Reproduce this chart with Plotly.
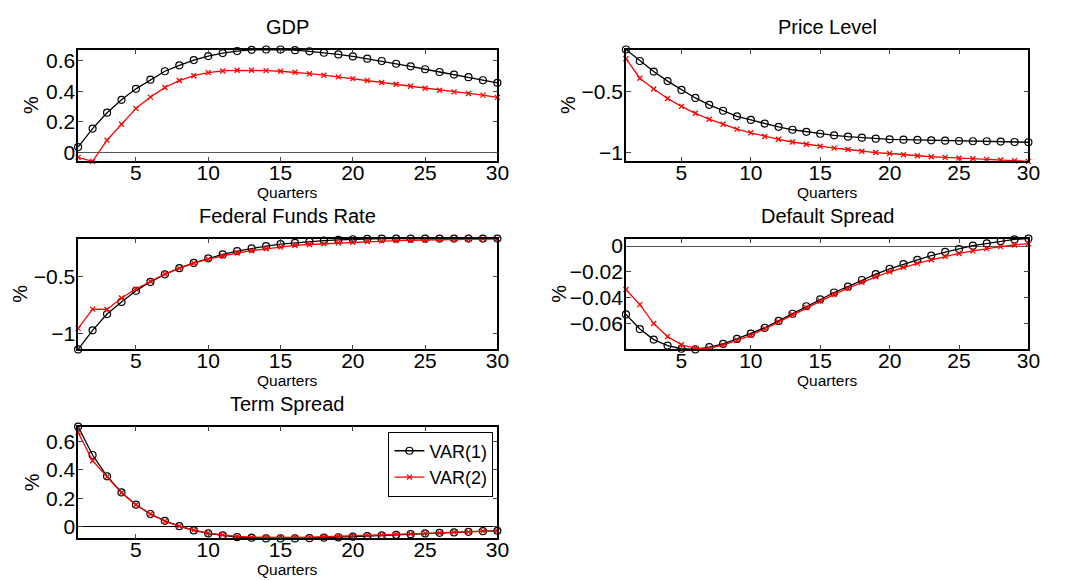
import plotly.graph_objects as go

quarters = list(range(1, 31))

gdp_var1 = [0.035, 0.156, 0.26, 0.344, 0.416, 0.476, 0.531, 0.570, 0.604, 0.630, 0.650, 0.663, 0.671, 0.673, 0.673,
            0.669, 0.661, 0.652, 0.641, 0.628, 0.613, 0.598, 0.580, 0.563, 0.544, 0.526, 0.509, 0.492, 0.472, 0.455]
gdp_var2 = [-0.032, -0.058, 0.08, 0.184, 0.288, 0.362, 0.425, 0.47, 0.502, 0.522, 0.533, 0.537, 0.537, 0.535, 0.531,
            0.524, 0.515, 0.505, 0.494, 0.483, 0.47, 0.457, 0.446, 0.433, 0.42, 0.407, 0.396, 0.386, 0.375, 0.36]

price_var1 = [-0.152, -0.247, -0.334, -0.413, -0.486, -0.552, -0.609, -0.658, -0.704, -0.734, -0.764, -0.791, -0.815,
              -0.832, -0.848, -0.861, -0.872, -0.880, -0.889, -0.894, -0.897, -0.899, -0.902, -0.905, -0.908, -0.910,
              -0.910, -0.913, -0.916, -0.918]
price_var2 = [-0.228, -0.389, -0.478, -0.557, -0.622, -0.679, -0.728, -0.769, -0.810, -0.840, -0.870, -0.894, -0.916,
              -0.935, -0.951, -0.967, -0.978, -0.992, -1.003, -1.011, -1.022, -1.030, -1.038, -1.043, -1.049, -1.054,
              -1.060, -1.065, -1.071, -1.076]

ffr_var1 = [-1.137, -0.971, -0.829, -0.723, -0.626, -0.549, -0.483, -0.429, -0.383, -0.343, -0.309, -0.280, -0.257,
            -0.237, -0.220, -0.209, -0.197, -0.189, -0.183, -0.177, -0.174, -0.171, -0.171, -0.171, -0.171, -0.171,
            -0.171, -0.171, -0.171, -0.171]
ffr_var2 = [-0.954, -0.786, -0.789, -0.689, -0.611, -0.543, -0.480, -0.431, -0.386, -0.351, -0.323, -0.297, -0.277,
            -0.260, -0.246, -0.231, -0.223, -0.217, -0.209, -0.203, -0.197, -0.191, -0.189, -0.186, -0.183, -0.180,
            -0.177, -0.177, -0.174, -0.174]

default_var1 = [-0.0531, -0.0645, -0.0727, -0.0773, -0.0798, -0.0803, -0.0785, -0.0760, -0.0722, -0.0681, -0.0635,
                -0.0582, -0.0526, -0.0468, -0.0414, -0.0361, -0.0315, -0.0264, -0.0219, -0.0178, -0.0140, -0.0107,
                -0.0074, -0.0046, -0.0023, 0.0003, 0.0020, 0.0038, 0.0051, 0.0058]
default_var2 = [-0.0338, -0.0455, -0.0602, -0.0704, -0.0767, -0.0795, -0.0795, -0.0770, -0.0734, -0.0694, -0.0643,
                -0.0590, -0.0534, -0.0478, -0.0427, -0.0376, -0.0328, -0.0282, -0.0239, -0.0200, -0.0165, -0.0135,
                -0.0107, -0.0081, -0.0058, -0.0038, -0.0020, -0.0005, 0.0008, 0.0018]

term_var1 = [0.702, 0.503, 0.354, 0.241, 0.155, 0.090, 0.042, 0.005, -0.025, -0.046, -0.060, -0.072, -0.076, -0.081,
             -0.081, -0.081, -0.079, -0.076, -0.074, -0.069, -0.065, -0.060, -0.056, -0.051, -0.046, -0.042, -0.039,
             -0.035, -0.030, -0.028]
term_var2 = [0.66, 0.463, 0.35, 0.239, 0.155, 0.09, 0.039, 0.005, -0.023, -0.044, -0.056, -0.067, -0.072, -0.074,
             -0.074, -0.074, -0.072, -0.069, -0.067, -0.063, -0.058, -0.056, -0.051, -0.049, -0.044, -0.042, -0.037,
             -0.035, -0.030, -0.028]

titles = ["GDP", "Price Level", "Federal Funds Rate", "Default Spread", "Term Spread"]
series = [(gdp_var1, gdp_var2), (price_var1, price_var2), (ffr_var1, ffr_var2),
          (default_var1, default_var2), (term_var1, term_var2)]
yticks = [[0, 0.2, 0.4, 0.6], [-1, -0.5], [-1, -0.5], [-0.06, -0.04, -0.02, 0], [0, 0.2, 0.4, 0.6]]
xticks = [5, 10, 15, 20, 25, 30]
series_names = ["VAR(1)", "VAR(2)"]

W, H = 1076, 580
# pixel boxes: (left, right, top, bottom)
boxes = [(79, 503, 46, 159), (633, 1040, 46, 159), (79, 503, 237, 349), (633, 1040, 237, 349), (79, 503, 427, 540)]
pct_x = [32, 575, 20, 565, 33]
zero_colors = ["#555555", "black", "black", "#555555", "black"]

FONT = "Liberation Sans, Arial, sans-serif"
fig = go.Figure()
annotations = []
layout = {}
for i, (title, (s1, s2)) in enumerate(zip(titles, series)):
    n = "" if i == 0 else str(i + 1)
    xa, ya = "x" + n, "y" + n
    fig.add_trace(go.Scatter(x=quarters, y=s1, xaxis=xa, yaxis=ya, mode="lines+markers", name=series_names[0],
                             line=dict(color="black", width=1.3),
                             marker=dict(symbol="circle-open", size=7, color="black", line=dict(width=1.2)),
                             showlegend=(i == 4), cliponaxis=False))
    fig.add_trace(go.Scatter(x=quarters, y=s2, xaxis=xa, yaxis=ya, mode="lines+markers", name=series_names[1],
                             line=dict(color="red", width=1.3),
                             marker=dict(symbol="x-thin-open", size=5, color="red", line=dict(width=1.3, color="red")),
                             showlegend=(i == 4), cliponaxis=False))
    l, r, t, b = boxes[i]
    ymin = min(min(s1), min(s2))
    ymax = max(max(s1), max(s2))
    layout["xaxis" + n] = dict(domain=[l / W, r / W], anchor=ya, range=[1, 30], tickvals=xticks,
                               ticks="inside", ticklen=5, mirror="ticks", showline=True, linecolor="black",
                               linewidth=1.5, showgrid=False, zeroline=False, ticklabelstandoff=-8,
                               tickfont=dict(size=21, color="black", family=FONT))
    layout["yaxis" + n] = dict(domain=[1 - b / H, 1 - t / H], anchor=xa, range=[ymin, ymax], tickvals=yticks[i],
                               ticks="inside", ticklen=5, mirror="ticks", showline=True, linecolor="black",
                               linewidth=1.5, showgrid=False, zeroline=True, zerolinecolor=zero_colors[i],
                               zerolinewidth=1, ticklabelstandoff=-3,
                               tickfont=dict(size=21, color="black", family=FONT))
    cx = (l + r) / 2 / W
    annotations.append(dict(text=title, x=cx, y=1 - (t - 23) / H, xref="paper", yref="paper",
                            showarrow=False, xanchor="center", yanchor="middle",
                            font=dict(size=20, color="black", family=FONT)))
    annotations.append(dict(text="Quarters", x=cx, y=1 - (b + 31) / H, xref="paper", yref="paper",
                            showarrow=False, xanchor="center", yanchor="middle",
                            font=dict(size=15.5, color="black", family=FONT)))
    annotations.append(dict(text="%", x=pct_x[i] / W, y=1 - (t + b) / 2 / H, xref="paper", yref="paper",
                            showarrow=False, xanchor="center", yanchor="middle", textangle=-90,
                            font=dict(size=20, color="black", family=FONT)))

fig.update_layout(**layout)
fig.update_layout(width=W, height=H, margin=dict(l=0, r=0, t=0, b=0), paper_bgcolor="white",
                  plot_bgcolor="white", annotations=annotations, font=dict(family=FONT, color="black"),
                  legend=dict(x=499 / W, y=1 - 432 / H, xanchor="right", yanchor="top", bgcolor="white",
                              bordercolor="black", borderwidth=1, font=dict(size=18, color="black", family=FONT),
                              tracegroupgap=0, itemwidth=30))
fig.write_html("out.html")
